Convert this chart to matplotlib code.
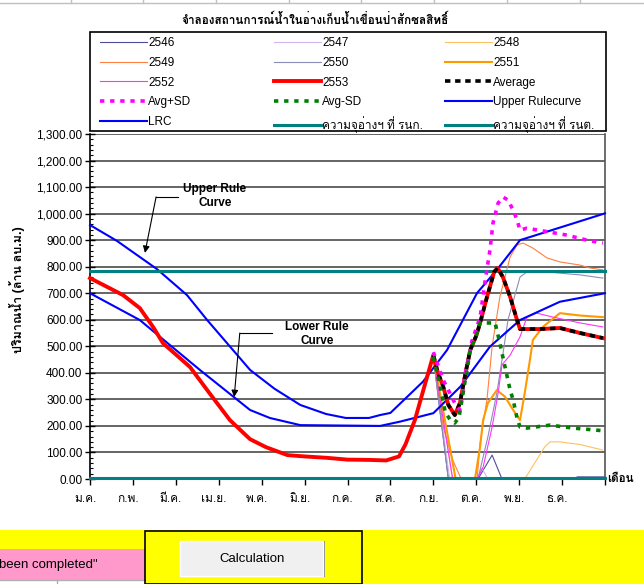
import matplotlib
matplotlib.use("Agg")
import matplotlib.pyplot as plt
from matplotlib import font_manager as fm
from matplotlib.ft2font import FT2Font
from matplotlib.lines import Line2D
from matplotlib.patches import Rectangle
import matplotlib.transforms as mtransforms

# ---------------- fonts ----------------
thai_family = None
for f in fm.fontManager.ttflist:
    try:
        ft = FT2Font(f.fname)
        if ord('\u0e08') in ft.get_charmap():
            thai_family = f.name
            break
    except Exception:
        pass
fams = ['Liberation Sans']
if thai_family:
    fams.append(thai_family)
fams.append('DejaVu Sans')
plt.rcParams['font.family'] = fams

# ---------------- data (months from 1 Jan, value in million m3) ----------------
title = "จำลองสถานการณ์น้ำในอ่างเก็บน้ำเขื่อนป่าสักชลสิทธิ์"
ylabel = "ปริมาณน้ำ (ล้าน ลบ.ม.)"
month_labels = ["ม.ค.", "ก.พ.", "มี.ค.", "เม.ย.", "พ.ค.", "มิ.ย.",
                "ก.ค.", "ส.ค.", "ก.ย.", "ต.ค.", "พ.ย.", "ธ.ค."]
yticks = list(range(0, 1301, 100))

urc_x = [0, 0.63, 1.56, 2.26, 2.73, 3.73, 4.3, 4.9, 5.5, 5.96, 6.5, 6.76, 7.0,
         7.76, 8.32, 9.02, 9.48, 10.02, 12.0]
urc_y = [957, 897, 791, 693, 599, 411, 340, 279, 245, 230, 230, 241, 249,
         367, 486, 701, 788, 900, 1001]

lrc_x = [0, 1.16, 2.56, 3.73, 4.19, 4.9, 6.76, 7.22, 8.0, 8.63, 9.32, 10.02, 10.95, 12.0]
lrc_y = [700, 599, 411, 260, 230, 203, 200, 216, 248, 348, 499, 599, 668, 700]

red_x = [0, 0.77, 1.16, 1.47, 1.7, 2.33, 2.8, 3.26, 3.73, 4.1, 4.6, 5.0, 5.5, 6.0,
         6.5, 6.9, 7.2, 7.35, 7.57, 7.8,
         8.0, 8.1, 8.23, 8.35, 8.5, 8.62, 8.75, 8.86, 9.0, 9.09, 9.25, 9.42, 9.5,
         9.62, 9.79, 9.95, 10.02, 10.49, 10.95, 11.42, 11.95]
red_y = [757, 693, 644, 573, 512, 422, 320, 222, 150, 120, 90, 85, 80, 73,
         72, 70, 85, 130, 222, 354,
         467, 404, 348, 279, 241, 286, 399, 486, 540, 588, 686, 781, 795,
         761, 686, 599, 565, 565, 569, 550, 531]

avg_x = [8.0, 8.1, 8.23, 8.35, 8.5, 8.62, 8.75, 8.86, 9.0, 9.09, 9.25, 9.42, 9.5,
         9.62, 9.79, 9.95, 10.02, 10.49, 10.95, 11.42, 11.95]
avg_y = [467, 404, 348, 279, 241, 286, 399, 486, 540, 588, 686, 781, 795,
         761, 686, 599, 565, 565, 569, 550, 531]

avgp_x = [8.0, 8.23, 8.35, 8.5, 8.62, 8.75, 8.9, 9.09, 9.21, 9.32, 9.39, 9.51, 9.63,
          9.74, 9.86, 9.95, 10.02, 10.18, 10.65, 11.11, 11.58, 11.95]
avgp_y = [478, 373, 335, 286, 260, 400, 520, 610, 750, 863, 964, 1040, 1062,
          1051, 1013, 976, 938, 945, 932, 919, 900, 889]

avgm_x = [8.0, 8.16, 8.28, 8.4, 8.5, 8.6, 8.7, 8.86, 9.0, 9.09, 9.16, 9.44, 9.55,
          9.67, 9.79, 9.86, 9.95, 10.02, 10.18, 10.72, 11.25, 11.95]
avgm_y = [460, 347, 250, 222, 211, 234, 330, 486, 540, 588, 588, 588, 512,
          422, 335, 298, 230, 196, 192, 203, 192, 182]

y2546_x = [8.0, 8.35, 9.04, 9.37, 9.6, 11.3, 11.35, 12.0]
y2546_y = [460, 0, 0, 90, 0, 0, 8, 8]
y2547_x = [8.0, 8.38, 9.02, 9.13, 9.27, 12.0]
y2547_y = [460, 0, 0, 41, 0, 0]
y2548_x = [8.0, 8.45, 10.13, 10.6, 10.72, 10.95, 11.42, 11.95]
y2548_y = [460, 0, 0, 122, 140, 140, 130, 109]
y2549_x = [8.0, 8.23, 8.45, 8.65, 9.02, 9.09, 9.25, 9.37, 9.55, 9.79, 9.95, 10.09,
           10.32, 10.65, 10.95, 11.42, 11.65, 11.95]
y2549_y = [460, 196, 72, 0, 0, 136, 300, 500, 686, 837, 882, 889,
           870, 833, 818, 806, 795, 788]
y2550_x = [8.0, 8.35, 9.04, 9.27, 9.48, 9.6, 9.74, 10.02, 10.18, 10.65, 11.42, 11.95]
y2550_y = [460, 0, 0, 158, 324, 448, 600, 761, 780, 780, 769, 757]
y2551_x = [8.0, 8.52, 8.97, 9.09, 9.16, 9.27, 9.48, 9.67, 9.86, 10.02, 10.13, 10.25,
           10.32, 10.55, 10.95, 11.42, 11.95]
y2551_y = [460, 0, 0, 122, 222, 286, 335, 310, 260, 222, 324, 448,
           524, 573, 625, 616, 610]
y2552_x = [8.0, 8.45, 9.02, 9.16, 9.37, 9.51, 9.6, 9.79, 10.02, 10.18, 10.41, 10.79,
           11.42, 11.95]
y2552_y = [460, 0, 0, 45, 196, 324, 430, 467, 536, 610, 625, 610, 588, 573]

rnk_level = 785
rnt_level = 3

# ---------------- figure ----------------
W, H = 644, 584
fig = plt.figure(figsize=(W / 100, H / 100), dpi=100)
fig.patch.set_facecolor('white')

def fx(px):
    return px / W

def fy(py):
    return 1 - py / H

ax = fig.add_axes([fx(90), fy(479), fx(605) - fx(90), fy(134) - fy(479)])

# gridlines
for v in yticks[1:]:
    ax.axhline(v, color='#3a3a3a', lw=1.1, zorder=1)

thin = 0.8
series = [
    ('2546', y2546_x, y2546_y, dict(color='#4d4d99', lw=thin)),
    ('2547', y2547_x, y2547_y, dict(color='#d2b4f0', lw=thin)),
    ('2548', y2548_x, y2548_y, dict(color='#ffc060', lw=thin)),
    ('2549', y2549_x, y2549_y, dict(color='#ff8040', lw=thin)),
    ('2550', y2550_x, y2550_y, dict(color='#8c8cb8', lw=thin)),
    ('2551', y2551_x, y2551_y, dict(color='#ff9900', lw=1.5)),
    ('2552', y2552_x, y2552_y, dict(color='#ff33ff', lw=thin)),
    ('2553', red_x, red_y, dict(color='#ff0000', lw=2.8)),
    ('Average', avg_x, avg_y, dict(color='black', lw=2.6, ls=(0, (1.5, 1.3)))),
    ('Avg+SD', avgp_x, avgp_y, dict(color='#ff00ff', lw=2.6, ls=(0, (1.2, 1.6)))),
    ('Avg-SD', avgm_x, avgm_y, dict(color='#008000', lw=2.6, ls=(0, (1.2, 1.6)))),
    ('Upper Rulecurve', urc_x, urc_y, dict(color='#0000ff', lw=1.5)),
    ('LRC', lrc_x, lrc_y, dict(color='#0000ff', lw=1.5)),
    ('ความจุอ่างฯ ที่ รนก.', [0, 12], [rnk_level, rnk_level], dict(color='#008080', lw=2.2)),
    ('ความจุอ่างฯ ที่ รนต.', [0, 12], [rnt_level, rnt_level], dict(color='#008080', lw=2.2)),
]
handles = {}
zorders = {'2553': 4, 'Average': 5, 'Avg+SD': 5, 'Avg-SD': 5}
for name, xs, ys, st in series:
    ln, = ax.plot(xs, ys, label=name, zorder=zorders.get(name, 3), clip_on=False, **st)
    handles[name] = ln

ax.set_xlim(0, 12)
ax.set_ylim(0, 1300)
ax.set_yticks(yticks)
ax.set_yticklabels([f"{v:,.2f}" for v in yticks], fontsize=8.5)
ax.set_yticks(range(0, 1301, 20), minor=True)
ax.tick_params(axis='y', which='major', direction='inout', length=7, width=1, pad=2)
ax.tick_params(axis='y', which='minor', direction='in', length=2.5, width=0.8)
ax.set_xticks(range(0, 13))
ax.set_xticklabels(month_labels + [""], fontsize=8.5)
ax.tick_params(axis='x', which='major', direction='out', length=4, width=1, pad=6)
offset = mtransforms.ScaledTranslation(-5 / 100, 0, fig.dpi_scale_trans)
for lab in ax.get_xticklabels():
    lab.set_transform(lab.get_transform() + offset)

ax.spines['top'].set_visible(False)
ax.spines['left'].set_linewidth(1.2)
ax.spines['bottom'].set_linewidth(1.2)
ax.spines['right'].set_color('#555555')
ax.spines['right'].set_linewidth(1.2)

ax.set_ylabel(ylabel, fontsize=9, fontweight='bold')
ax.yaxis.set_label_coords((25 - 90) / 515, 0.55)

# annotations
ax.text(2.91, 1066, "Upper Rule\nCurve", ha='center', va='center', fontsize=8.5,
        fontweight='bold', linespacing=1.3, zorder=6)
ax.plot([2.05, 1.54], [1063, 1063], color='black', lw=0.8, zorder=6)
ax.annotate("", xy=(1.28, 852), xytext=(1.54, 1063),
            arrowprops=dict(arrowstyle='-|>', color='black', lw=0.8,
                            mutation_scale=10, shrinkA=0, shrinkB=0), zorder=6)
ax.text(5.29, 546, "Lower Rule\nCurve", ha='center', va='center', fontsize=8.5,
        fontweight='bold', linespacing=1.3, zorder=6)
ax.plot([4.24, 3.49], [550, 550], color='black', lw=0.8, zorder=6)
ax.annotate("", xy=(3.36, 309), xytext=(3.49, 550),
            arrowprops=dict(arrowstyle='-|>', color='black', lw=0.8,
                            mutation_scale=10, shrinkA=0, shrinkB=0), zorder=6)

fig.text(fx(607), fy(479), "เดือน", fontsize=8.5, fontweight='bold', va='center', ha='left')

# title
fig.text(fx(315), fy(20), title, fontsize=8.5, fontweight='bold', ha='center', va='center')

# legend: three columns placed at the reference positions
columns = [
    (100, ['2546', '2549', '2552', 'Avg+SD', 'LRC']),
    (274, ['2547', '2550', '2553', 'Avg-SD', 'ความจุอ่างฯ ที่ รนก.']),
    (445, ['2548', '2551', 'Average', 'Upper Rulecurve', 'ความจุอ่างฯ ที่ รนต.']),
]
for xpx, names in columns:
    fig.legend([handles[k] for k in names], names, loc='upper left',
               bbox_to_anchor=(fx(xpx), fy(37)), ncol=1, fontsize=8.5,
               frameon=False, handlelength=3.95, handletextpad=0.15,
               labelspacing=0.66, borderpad=0, borderaxespad=0)
fig.add_artist(Rectangle((fx(90), fy(131)), fx(606) - fx(90), fy(32) - fy(131),
                         transform=fig.transFigure, facecolor='none',
                         edgecolor='black', lw=1.2))

# spreadsheet cell lines at top
for xc in [71, 143, 216, 289, 361, 434, 507, 580]:
    fig.add_artist(Line2D([fx(xc), fx(xc)], [fy(0), fy(3)], color='#c0c0c0', lw=1))
fig.add_artist(Line2D([0, 1], [fy(3), fy(3)], color='#c0c0c0', lw=1))

# bottom spreadsheet area
fig.add_artist(Rectangle((0, 0), 1, fy(530), transform=fig.transFigure,
                         facecolor='#ffff00', edgecolor='none', zorder=0))
fig.add_artist(Rectangle((0, fy(580)), fx(145), fy(549) - fy(580), transform=fig.transFigure,
                         facecolor='#ff99cc', edgecolor='none', zorder=1))
fig.add_artist(Rectangle((0, 0), fx(145), fy(580), transform=fig.transFigure,
                         facecolor='white', edgecolor='none', zorder=1))
fig.add_artist(Line2D([0, fx(145)], [fy(580), fy(580)], color='#b0b0b0', lw=1, zorder=2))
fig.add_artist(Line2D([fx(57), fx(57)], [0, fy(580)], color='#b0b0b0', lw=1, zorder=2))
fig.text(fx(-1), fy(565), 'been completed"', fontsize=9.5, ha='left', va='center', zorder=3)
fig.add_artist(Rectangle((fx(145), 0), fx(362) - fx(145), fy(530.5), transform=fig.transFigure,
                         facecolor='none', edgecolor='black', lw=1.2, zorder=3))
fig.add_artist(Rectangle((fx(181), fy(577)), fx(325) - fx(181), fy(541) - fy(577),
                         transform=fig.transFigure, facecolor='#808080', edgecolor='none', zorder=3))
fig.add_artist(Rectangle((fx(180), fy(576)), fx(323) - fx(180), fy(541) - fy(576),
                         transform=fig.transFigure, facecolor='#f0f0f0', edgecolor='#ffffff',
                         lw=1, zorder=4))
fig.text(fx(252), fy(559), "Calculation", fontsize=9.5, ha='center', va='center', zorder=5)

fig.savefig('out.png', dpi=100, facecolor='white')
